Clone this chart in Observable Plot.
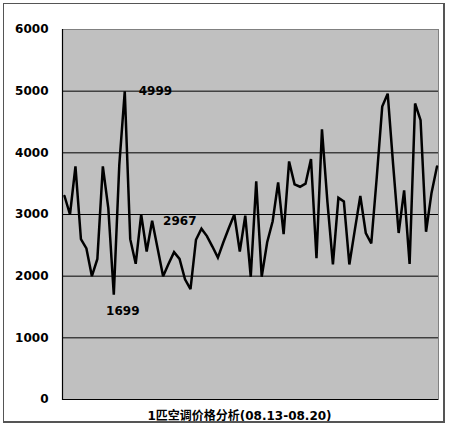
<!DOCTYPE html>
<html>
<head>
<meta charset="utf-8">
<script src="https://cdn.jsdelivr.net/npm/d3@7"></script>
<script src="https://cdn.jsdelivr.net/npm/@observablehq/plot@0.6"></script>
<style>
  html, body { margin: 0; padding: 0; background: #fff; }
  #wrap { position: relative; width: 450px; height: 427px; overflow: hidden; }
  #border { position: absolute; left: 3px; top: 3px; width: 439px; height: 417px;
            border: 1.5px solid #555; border-right-width: 2px; border-bottom-width: 2px; pointer-events: none; }
  svg { font-family: "DejaVu Sans", "Noto Sans CJK SC", sans-serif; }
</style>
</head>
<body>
<div id="wrap"><div id="border"></div></div>
<script>
const title = "1匹空调价格分析(08.13-08.20)";
const prices = [3300,3000,3780,2600,2450,2000,2280,3780,3100,1699,3800,4999,2600,2200,3000,2400,2900,2450,2000,2200,2390,2280,1950,1790,2590,2770,2650,2480,2300,2550,2780,3000,2400,2980,1990,3540,1990,2550,2890,3520,2680,3860,3490,3450,3500,3900,2290,4380,3200,2190,3270,3210,2190,2750,3300,2700,2530,3600,4750,4960,3800,2700,3390,2200,4800,4530,2720,3350,3780];
const yTicks = [0, 1000, 2000, 3000, 4000, 5000, 6000];
const gridValues = [1000, 2000, 3000, 4000, 5000];
const maxLabel = "4999";
const minLabel = "1699";
const avgLabel = "2967";
const avgValue = 2967;

const data = prices.map((v, i) => ({i, v}));
const maxIdx = prices.indexOf(d3.max(prices));
const minIdx = prices.indexOf(d3.min(prices));

const chart = Plot.plot({
  width: 450,
  height: 427,
  marginLeft: 62,
  marginRight: 12,
  marginTop: 29,
  marginBottom: 28,
  style: {background: "transparent", fontFamily: "DejaVu Sans, Noto Sans CJK SC, sans-serif"},
  x: {domain: [0, prices.length - 1], insetLeft: 2, insetRight: 1.5, axis: null},
  y: {domain: [0, 6000], ticks: yTicks, tickSize: 0, tickPadding: 14, label: null, tickFormat: d => String(d)},
  marks: [
    Plot.frame({fill: "#c0c0c0", stroke: "#808080"}),
    Plot.ruleY(gridValues, {stroke: "#000", strokeWidth: 1}),
    Plot.ruleY([0], {stroke: "#000", strokeWidth: 1.2}),
    Plot.frame({anchor: "left", stroke: "#000", strokeWidth: 1.2}),
    Plot.axisY({ticks: yTicks, tickSize: 0, tickPadding: 14, fontSize: 12, fontWeight: "bold", fill: "#000", label: null, tickFormat: d => String(d)}),
    Plot.line(data, {x: "i", y: "v", stroke: "#000", strokeWidth: 2.5, strokeLinejoin: "miter", strokeMiterlimit: 3}),
    Plot.text([{i: maxIdx, v: prices[maxIdx], t: maxLabel}], {x: "i", y: "v", text: "t", textAnchor: "start", dx: 14, fontSize: 12, fontWeight: "bold", fill: "#000"}),
    Plot.text([{i: minIdx, v: prices[minIdx], t: minLabel}], {x: "i", y: "v", text: "t", textAnchor: "middle", dx: 9, dy: 16, fontSize: 12, fontWeight: "bold", fill: "#000"}),
    Plot.text([{i: 18, v: avgValue, t: avgLabel}], {x: "i", y: "v", text: "t", textAnchor: "start", dx: 0, dy: 5, fontSize: 12, fontWeight: "bold", fill: "#000"}),
    Plot.text([title], {frameAnchor: "bottom", dx: -11, dy: 17, lineAnchor: "middle", fontSize: 12, fontWeight: "bold", fill: "#000", letterSpacing: 0.5})
  ]
});
document.getElementById("wrap").prepend(chart);
</script>
</body>
</html>
